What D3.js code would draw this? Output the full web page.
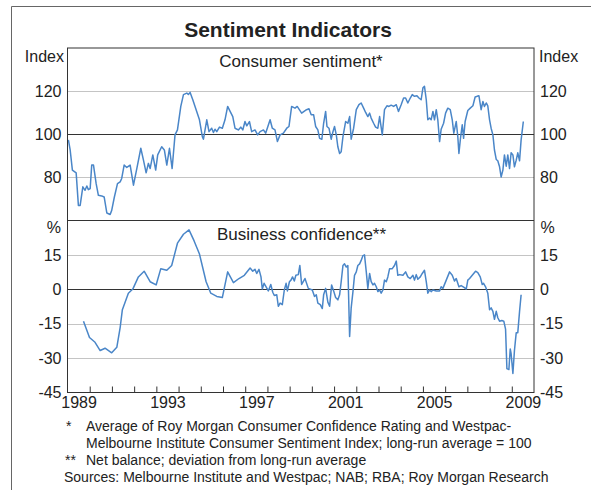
<!DOCTYPE html>
<html>
<head>
<meta charset="utf-8">
<script src="https://cdn.jsdelivr.net/npm/d3@7"></script>
<style>
  body { margin: 0; background: #fff; }
  svg { font-family: "Liberation Sans", Arial, sans-serif; fill: #222; }
  .tick text { font-size: 16px; fill: #222; }
</style>
</head>
<body>
<div class="chart"></div>
<script>
var svgWidth = 591;
var svgHeight = 490;

// plot frame
var plot = { left: 67.5, right: 534, top: 48, mid: 220.5, bottom: 392.5 };

// Consumer sentiment, index (long-run average = 100)
var consumerSentiment = [
  [1989.04, 97.4], [1989.12, 92.7], [1989.22, 83.4], [1989.39, 82.1], [1989.49, 67.0],
  [1989.57, 67.0], [1989.69, 75.6], [1989.79, 74.0], [1989.87, 76.0], [1989.94, 74.3],
  [1990.02, 74.8], [1990.09, 85.7], [1990.17, 85.7], [1990.29, 77.1], [1990.39, 71.7],
  [1990.54, 71.4], [1990.65, 70.9], [1990.77, 63.5], [1990.92, 62.8], [1990.99, 64.7],
  [1991.11, 70.9], [1991.25, 77.1], [1991.37, 77.9], [1991.44, 79.5], [1991.55, 85.7],
  [1991.67, 84.6], [1991.82, 85.7], [1991.97, 76.4], [1992.12, 84.1], [1992.30, 93.5],
  [1992.42, 88.0], [1992.54, 82.1], [1992.64, 86.5], [1992.72, 84.1], [1992.84, 90.4],
  [1992.97, 83.4], [1993.06, 90.4], [1993.24, 94.2], [1993.36, 92.7], [1993.47, 85.7],
  [1993.59, 93.5], [1993.71, 84.1], [1993.84, 99.7], [1993.95, 102.0], [1994.10, 112.9],
  [1994.22, 118.4], [1994.37, 119.1], [1994.44, 118.4], [1994.52, 119.4], [1994.64, 116.0],
  [1994.79, 111.4], [1994.94, 106.7], [1995.07, 98.9], [1995.12, 97.7], [1995.27, 106.7],
  [1995.37, 101.2], [1995.49, 102.8], [1995.57, 100.8], [1995.64, 102.3], [1995.72, 101.2],
  [1995.84, 103.3], [1995.97, 102.8], [1996.09, 106.7], [1996.21, 112.9], [1996.32, 110.6],
  [1996.44, 108.2], [1996.54, 102.8], [1996.69, 102.0], [1996.80, 103.3], [1996.89, 102.0],
  [1996.99, 105.9], [1997.07, 103.9], [1997.19, 105.9], [1997.29, 101.2], [1997.44, 102.0],
  [1997.56, 99.7], [1997.67, 101.2], [1997.82, 102.0], [1997.92, 100.5], [1998.12, 106.7],
  [1998.22, 102.8], [1998.34, 102.0], [1998.45, 96.6], [1998.57, 99.7], [1998.72, 100.5],
  [1998.87, 102.8], [1998.97, 103.6], [1999.09, 112.9], [1999.24, 112.1], [1999.34, 112.9],
  [1999.54, 109.8], [1999.76, 111.4], [1999.87, 111.8], [1999.97, 109.0], [2000.08, 109.0],
  [2000.17, 103.6], [2000.27, 102.0], [2000.35, 98.1], [2000.45, 97.7], [2000.53, 105.1],
  [2000.62, 110.6], [2000.68, 103.6], [2000.77, 102.8], [2000.87, 97.7], [2000.95, 101.2],
  [2001.02, 103.6], [2001.10, 99.7], [2001.17, 94.2], [2001.25, 91.1], [2001.32, 91.9],
  [2001.40, 98.9], [2001.52, 105.9], [2001.62, 105.1], [2001.70, 108.2], [2001.77, 97.7],
  [2001.88, 102.8], [2002.00, 111.4], [2002.12, 113.7], [2002.22, 114.5], [2002.33, 112.1],
  [2002.42, 110.1], [2002.52, 108.2], [2002.60, 109.8], [2002.67, 107.5], [2002.78, 105.1],
  [2002.87, 103.3], [2002.97, 102.8], [2003.05, 108.2], [2003.17, 99.7], [2003.27, 111.4],
  [2003.38, 113.2], [2003.47, 112.9], [2003.57, 113.5], [2003.68, 112.9], [2003.80, 113.7],
  [2003.90, 110.6], [2004.02, 113.7], [2004.13, 116.8], [2004.22, 116.8], [2004.32, 114.5],
  [2004.43, 116.8], [2004.52, 118.4], [2004.62, 117.6], [2004.73, 117.9], [2004.82, 116.8],
  [2004.92, 116.0], [2005.00, 121.5], [2005.07, 122.2], [2005.15, 116.0], [2005.22, 106.7],
  [2005.30, 107.5], [2005.37, 106.7], [2005.45, 110.6], [2005.52, 106.7], [2005.60, 111.4],
  [2005.67, 106.7], [2005.75, 96.6], [2005.82, 102.3], [2005.93, 105.1], [2006.02, 109.8],
  [2006.12, 112.1], [2006.23, 111.4], [2006.32, 106.7], [2006.39, 100.5], [2006.50, 105.9],
  [2006.57, 98.9], [2006.62, 91.1], [2006.69, 98.1], [2006.77, 104.4], [2006.83, 98.1],
  [2006.90, 105.9], [2007.02, 111.0], [2007.13, 112.1], [2007.25, 113.2], [2007.35, 117.3],
  [2007.44, 117.6], [2007.52, 117.9], [2007.62, 111.4], [2007.70, 115.2], [2007.77, 112.9],
  [2007.85, 114.5], [2007.92, 113.2], [2008.00, 106.7], [2008.07, 102.8], [2008.15, 99.7],
  [2008.22, 92.7], [2008.30, 88.3], [2008.37, 87.7], [2008.45, 84.9], [2008.52, 80.2],
  [2008.60, 83.4], [2008.67, 90.4], [2008.75, 85.2], [2008.82, 90.4], [2008.90, 84.1],
  [2008.97, 91.4], [2009.05, 90.4], [2009.12, 84.9], [2009.20, 88.0], [2009.27, 91.4],
  [2009.35, 87.7], [2009.42, 97.4], [2009.52, 105.9]
];

// Business confidence, net balance (deviation from long-run average)
var businessConfidence = [
  [1989.72, -13.9], [1989.99, -21.0], [1990.24, -23.1], [1990.47, -26.7], [1990.69, -25.7],
  [1990.99, -27.7], [1991.22, -25.3], [1991.37, -16.7], [1991.47, -8.9], [1991.74, -1.7],
  [1991.94, 0.1], [1992.19, 5.4], [1992.45, 7.9], [1992.72, 3.3], [1992.99, 1.9],
  [1993.20, 9.0], [1993.47, 8.3], [1993.69, 10.4], [1993.95, 20.1], [1994.22, 24.0],
  [1994.47, 25.9], [1994.70, 21.1], [1994.94, 15.4], [1995.24, 3.3], [1995.45, -1.7],
  [1995.72, -3.1], [1995.97, -3.6], [1996.21, 7.6], [1996.47, 2.9], [1996.72, 4.7],
  [1996.96, 6.1], [1997.22, 9.3], [1997.34, 7.9], [1997.44, 8.7], [1997.52, 6.9],
  [1997.62, 8.7], [1997.71, 5.4], [1997.77, 0.1], [1997.85, 2.6], [1997.94, 1.1],
  [1998.04, -0.7], [1998.15, 2.1], [1998.24, -1.3], [1998.31, -2.7], [1998.42, -2.4],
  [1998.49, -7.4], [1998.57, -6.0], [1998.67, -6.7], [1998.76, -0.3], [1998.84, 2.6],
  [1998.90, -0.7], [1998.99, 3.3], [1999.06, 4.0], [1999.13, 5.4], [1999.21, 3.6],
  [1999.28, 6.1], [1999.39, 6.4], [1999.46, 10.4], [1999.54, 2.1], [1999.69, 4.7],
  [1999.84, 0.4], [2000.02, -0.3], [2000.12, -3.1], [2000.20, -2.4], [2000.27, -6.0],
  [2000.38, -6.7], [2000.47, -8.4], [2000.53, -2.4], [2000.62, 0.4], [2000.72, -5.6],
  [2000.80, -7.4], [2000.89, 1.9], [2000.98, -0.7], [2001.07, -3.6], [2001.17, -4.6],
  [2001.25, -2.4], [2001.32, 3.3], [2001.40, 10.4], [2001.47, 11.1], [2001.55, 9.7],
  [2001.62, 10.4], [2001.70, -20.6], [2001.77, -8.1], [2001.85, -1.0], [2001.92, 6.1],
  [2002.00, 7.6], [2002.07, 10.4], [2002.15, 11.1], [2002.22, 12.6], [2002.30, 14.7],
  [2002.37, 15.0], [2002.45, 7.6], [2002.52, 0.4], [2002.60, 6.9], [2002.67, 3.3],
  [2002.75, 1.9], [2002.82, 2.6], [2002.90, 1.1], [2002.97, -1.0], [2003.05, -0.3],
  [2003.12, -1.7], [2003.20, -0.3], [2003.27, 4.0], [2003.35, 3.3], [2003.42, 5.4],
  [2003.50, 9.0], [2003.62, 9.0], [2003.72, 10.4], [2003.80, 12.3], [2003.87, 6.1],
  [2003.95, 6.4], [2004.10, 6.1], [2004.22, 7.6], [2004.32, 5.4], [2004.43, 4.7],
  [2004.55, 6.1], [2004.62, 4.0], [2004.70, 6.4], [2004.77, 4.4], [2004.88, 5.4],
  [2004.97, 6.9], [2005.07, 8.3], [2005.15, 3.3], [2005.22, -1.7], [2005.30, -0.3],
  [2005.37, -1.0], [2005.45, -0.3], [2005.60, -0.7], [2005.75, -0.7], [2005.82, 1.1],
  [2005.90, 0.4], [2006.05, 4.0], [2006.20, 7.6], [2006.32, 6.1], [2006.42, 3.6],
  [2006.50, 4.7], [2006.62, 1.1], [2006.72, 1.6], [2006.87, 0.7], [2006.95, 0.1],
  [2007.02, 4.0], [2007.10, 4.7], [2007.22, 6.1], [2007.37, 7.9], [2007.47, 7.3],
  [2007.58, 5.4], [2007.67, 2.1], [2007.73, 2.6], [2007.82, 1.1], [2007.92, -1.7],
  [2008.00, -8.9], [2008.07, -8.1], [2008.15, -9.6], [2008.22, -13.1], [2008.30, -9.6],
  [2008.37, -12.4], [2008.45, -13.9], [2008.55, -13.6], [2008.64, -13.9], [2008.72, -17.4],
  [2008.78, -34.6], [2008.87, -35.0], [2008.93, -26.0], [2008.97, -28.1], [2009.05, -36.7],
  [2009.12, -26.7], [2009.20, -18.9], [2009.27, -18.9], [2009.35, -9.6], [2009.42, -2.4]
];

var yearTicks = d3.range(1990, 2010);
var yearLabels = [1989, 1993, 1997, 2001, 2005, 2009];
var consumerTicks = [80, 100, 120];
var businessTicks = [-45, -30, -15, 0, 15];

var lineColor = "#4a86c8";

var svg = d3.select(".chart")
  .append("svg")
  .attr("width", svgWidth)
  .attr("height", svgHeight);

svg.append("rect")
  .attr("width", svgWidth)
  .attr("height", svgHeight)
  .attr("fill", "#fff");

// partial outer frame
svg.append("path")
  .attr("d", "M11.5,490V6.5H591")
  .attr("fill", "none")
  .attr("stroke", "#666");

// scales
var xScale = d3.scaleLinear().domain([1989, 2010]).range([plot.left, plot.right]);
var yTop = d3.scaleLinear().domain([60, 140]).range([plot.mid, plot.top]);
var yBottom = d3.scaleLinear().domain([-45, 30]).range([plot.bottom, plot.mid]);

// gridlines
function drawGrid(scale, values, base) {
  svg.append("g")
    .selectAll("line")
    .data(values)
    .enter()
    .append("line")
    .attr("x1", plot.left)
    .attr("x2", plot.right)
    .attr("y1", d => Math.round(scale(d)) + 0.5)
    .attr("y2", d => Math.round(scale(d)) + 0.5)
    .attr("stroke", d => d === base ? "#333" : "#c4c4c4")
    .attr("stroke-width", 1);
}
drawGrid(yTop, [80, 100, 120], 100);
drawGrid(yBottom, [-30, -15, 0, 15], 0);

// lines
var lineTop = d3.line().x(d => xScale(d[0])).y(d => yTop(d[1]));
var lineBottom = d3.line().x(d => xScale(d[0])).y(d => yBottom(d[1]));

svg.append("path")
  .datum(consumerSentiment)
  .attr("d", lineTop)
  .attr("fill", "none")
  .attr("stroke", lineColor)
  .attr("stroke-width", 1.5)
  .attr("stroke-linejoin", "round");

svg.append("path")
  .datum(businessConfidence)
  .attr("d", lineBottom)
  .attr("fill", "none")
  .attr("stroke", lineColor)
  .attr("stroke-width", 1.5)
  .attr("stroke-linejoin", "round");

// frame and divider
svg.append("rect")
  .attr("x", plot.left)
  .attr("y", plot.top)
  .attr("width", plot.right - plot.left)
  .attr("height", plot.bottom - plot.top)
  .attr("fill", "none")
  .attr("stroke", "#333");

svg.append("line")
  .attr("x1", plot.left)
  .attr("x2", plot.right)
  .attr("y1", plot.mid)
  .attr("y2", plot.mid)
  .attr("stroke", "#333");

// y axes (plain hyphen for negatives, as in the original)
function yAxes(scale, values) {
  svg.append("g")
    .attr("transform", `translate(${plot.left}, 0)`)
    .call(d3.axisLeft(scale).tickValues(values).tickSize(0).tickPadding(6).tickFormat(d => String(d)))
    .call(g => g.select(".domain").remove());
  svg.append("g")
    .attr("transform", `translate(${plot.right}, 0)`)
    .call(d3.axisRight(scale).tickValues(values).tickSize(0).tickPadding(6).tickFormat(d => String(d)))
    .call(g => g.select(".domain").remove());
}
yAxes(yTop, consumerTicks);
yAxes(yBottom, businessTicks);

// x axis: inward year ticks, labels centred on the year
svg.append("g")
  .attr("transform", `translate(0, ${plot.bottom})`)
  .call(d3.axisBottom(xScale).tickValues(yearTicks).tickSize(-6).tickFormat(""))
  .call(g => g.select(".domain").remove())
  .call(g => g.selectAll("line").attr("stroke", "#333"));

svg.append("g")
  .attr("transform", `translate(0, ${plot.bottom})`)
  .call(d3.axisBottom(xScale).tickValues(yearLabels.map(d => d + 0.5))
    .tickSize(0).tickPadding(4).tickFormat(d => Math.floor(d)))
  .call(g => g.select(".domain").remove());

// unit labels
function unitLabel(txt, x, y, anchor) {
  svg.append("text")
    .attr("x", x)
    .attr("y", y)
    .attr("text-anchor", anchor)
    .style("font-size", "16px")
    .text(txt);
}
unitLabel("Index", 64, 61.5, "end");
unitLabel("Index", 539, 61.5, "start");
unitLabel("%", 61, 233, "end");
unitLabel("%", 540.5, 233, "start");

// titles
svg.append("text")
  .attr("x", 288)
  .attr("y", 37)
  .attr("text-anchor", "middle")
  .style("font-size", "21px")
  .style("font-weight", "bold")
  .text("Sentiment Indicators");

svg.append("text")
  .attr("x", 301)
  .attr("y", 67)
  .attr("text-anchor", "middle")
  .style("font-size", "17px")
  .text("Consumer sentiment*");

svg.append("text")
  .attr("x", 301.5)
  .attr("y", 240)
  .attr("text-anchor", "middle")
  .style("font-size", "17px")
  .text("Business confidence**");

// footnotes
var notes = svg.append("g").style("font-size", "14px");
notes.append("text").attr("x", 66).attr("y", 431).text("*");
notes.append("text").attr("x", 86).attr("y", 431)
  .text("Average of Roy Morgan Consumer Confidence Rating and Westpac-");
notes.append("text").attr("x", 86).attr("y", 448)
  .text("Melbourne Institute Consumer Sentiment Index; long-run average = 100");
notes.append("text").attr("x", 65).attr("y", 465).text("**");
notes.append("text").attr("x", 86).attr("y", 465)
  .text("Net balance; deviation from long-run average");
notes.append("text").attr("x", 64).attr("y", 482)
  .text("Sources: Melbourne Institute and Westpac; NAB; RBA; Roy Morgan Research");
</script>
</body>
</html>
